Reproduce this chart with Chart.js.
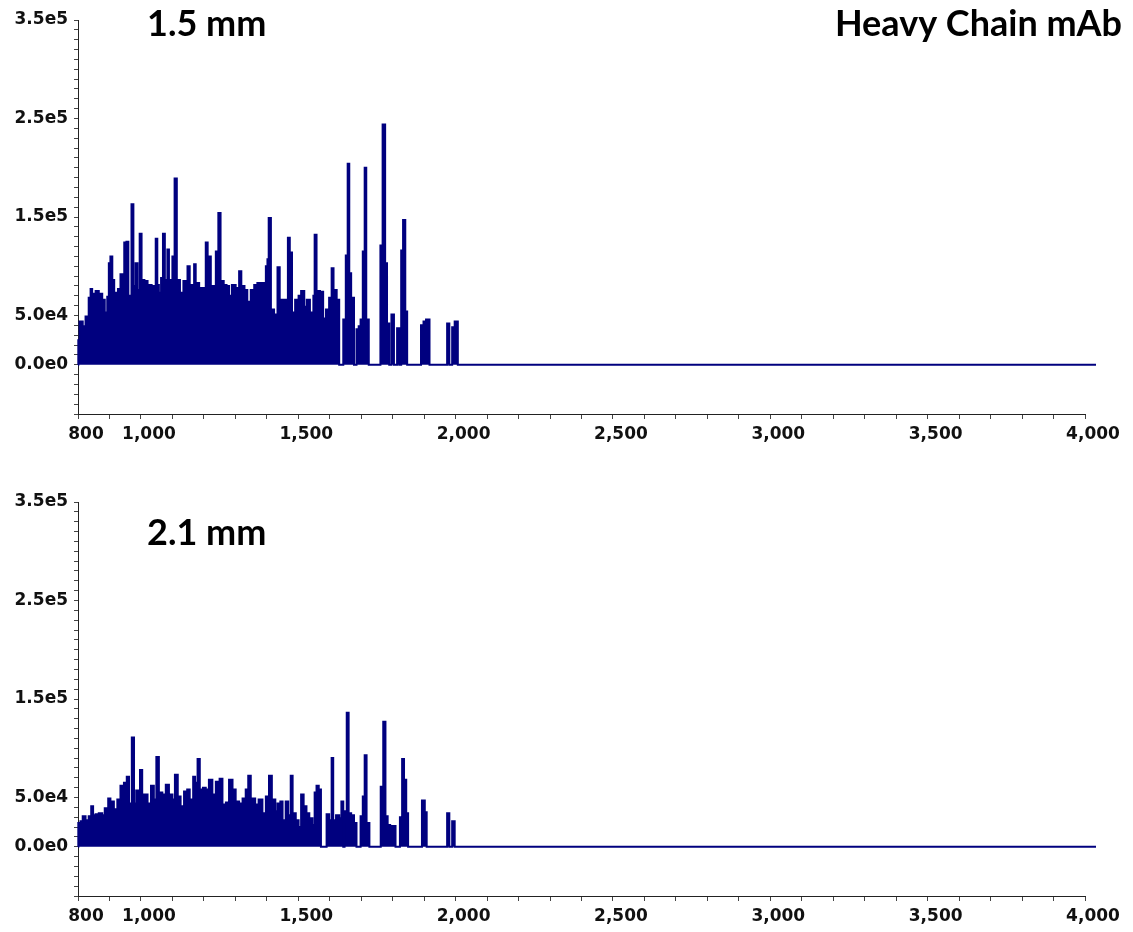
<!DOCTYPE html>
<html>
<head>
<meta charset="utf-8">
<title>Heavy Chain mAb spectra</title>
<script src="https://cdn.jsdelivr.net/npm/chart.js@4.4.0/dist/chart.umd.min.js"></script>
<style>
  html, body { margin: 0; padding: 0; background: #fff; }
  #wrap { position: relative; width: 1133px; height: 932px; overflow: hidden; }
  canvas { position: absolute; left: 0; }
  #top { top: 0; }
  #bottom { top: 482px; }
</style>
</head>
<body>
<div id="wrap">
  <canvas id="top" width="1133" height="450"></canvas>
  <canvas id="bottom" width="1133" height="450"></canvas>
</div>
<script>
// 1.5 mm column: m/z and intensity of the spectrum profile (step shape)
var mzTop = [800, 801, 805, 815, 824, 834, 840, 845, 856, 866, 877, 885, 893, 898, 903, 909, 915, 922, 927, 935,
  943, 947, 954, 960, 966, 970, 976, 983, 989, 996, 1002, 1011, 1021, 1034, 1047, 1052, 1057, 1064, 1070, 1076,
  1084, 1089, 1100, 1107, 1114, 1124, 1135, 1148, 1155, 1169, 1174, 1185, 1195, 1206, 1212, 1222, 1238, 1246, 1253, 1263,
  1272, 1280, 1289, 1301, 1312, 1319, 1329, 1338, 1349, 1360, 1370, 1386, 1397, 1402, 1406, 1413, 1423, 1434, 1441, 1455,
  1463, 1467, 1473, 1480, 1490, 1501, 1509, 1519, 1527, 1537, 1548, 1552, 1558, 1569, 1579, 1588, 1598, 1606, 1612, 1622,
  1630, 1643, 1651, 1657, 1662, 1668, 1677, 1685, 1692, 1698, 1705, 1711, 1716, 1724, 1761, 1768, 1776, 1782, 1789, 1796,
  1804, 1814, 1821, 1827, 1833, 1840, 1846, 1890, 1898, 1906, 1917, 1973, 1980, 1989, 1997, 2007, 4035];
var intensityTop = [0, 25000, 44000, 39000, 49000, 68000, 77000, 72000, 75000, 72000, 66000, 53000, 69000, 103000, 110000, 86000, 73000, 66000, 77000, 92000,
  70000, 124000, 125000, 70000, 70000, 163000, 80000, 103000, 76000, 133000, 86000, 85000, 81000, 80000, 128000, 81000, 73000, 88000, 133000, 86000,
  117000, 86000, 110000, 189000, 86000, 73000, 85000, 100000, 81000, 102000, 83000, 78000, 78000, 124000, 110000, 80000, 115000, 154000, 85000, 81000,
  80000, 70000, 81000, 78000, 95000, 80000, 76000, 64000, 76000, 81000, 83000, 83000, 100000, 107000, 149000, 56000, 51000, 99000, 66000, 66000,
  63000, 129000, 114000, 53000, 66000, 70000, 75000, 59000, 66000, 53000, 70000, 132000, 75000, 74000, 47000, 56000, 68000, 98000, 76000, 66000,
  0, 46000, 111000, 204000, 93000, 68000, 0, 36000, 39000, 46000, 115000, 200000, 46000, 0, 121000, 244000, 103000, 42000, 0, 51000,
  0, 37000, 0, 116000, 147000, 54000, 0, 40000, 44000, 46000, 0, 42000, 0, 38000, 44000, 0, 0];

// 2.1 mm column
var mzBottom = [800, 801, 808, 815, 824, 834, 842, 848, 856, 866, 877, 885, 896, 903, 914, 925, 935, 946, 955, 962,
  971, 978, 985, 997, 1004, 1013, 1021, 1032, 1041, 1049, 1057, 1068, 1079, 1089, 1100, 1108, 1117, 1126, 1137, 1147,
  1155, 1166, 1172, 1180, 1187, 1197, 1206, 1216, 1227, 1238, 1250, 1259, 1270, 1280, 1291, 1301, 1312, 1323, 1333, 1341,
  1349, 1363, 1374, 1386, 1397, 1407, 1416, 1427, 1434, 1443, 1450, 1460, 1468, 1476, 1482, 1492, 1501, 1509, 1517, 1526,
  1535, 1545, 1552, 1558, 1565, 1572, 1590, 1598, 1606, 1611, 1620, 1630, 1637, 1643, 1647, 1654, 1660, 1668, 1677, 1685,
  1698, 1705, 1711, 1717, 1726, 1762, 1770, 1777, 1784, 1792, 1800, 1809, 1823, 1830, 1836, 1843, 1849, 1893, 1902, 1908,
  1973, 1980, 1989, 1997, 4035];
var intensityBottom = [0, 24000, 26000, 31000, 27000, 31000, 41000, 32000, 33000, 34000, 32000, 39000, 49000, 46000, 38000, 48000, 62000, 65000, 71000, 44000,
  111000, 44000, 57000, 78000, 53000, 53000, 44000, 62000, 48000, 91000, 55000, 53000, 63000, 53000, 48000, 73000, 51000, 41000, 56000, 58000,
  48000, 71000, 65000, 89000, 58000, 60000, 58000, 68000, 53000, 66000, 69000, 43000, 45000, 68000, 58000, 46000, 44000, 49000, 58000, 72000,
  49000, 43000, 48000, 34000, 51000, 72000, 48000, 36000, 44000, 46000, 27000, 46000, 32000, 72000, 34000, 27000, 20000, 53000, 41000, 34000,
  29000, 22000, 55000, 62000, 58000, 0, 33000, 27000, 90000, 27000, 32000, 29000, 46000, 0, 36000, 136000, 34000, 32000, 24000, 0,
  31000, 51000, 93000, 24000, 0, 61000, 127000, 31000, 22000, 21000, 21000, 0, 30000, 89000, 68000, 34000, 0, 47000, 35000, 0,
  34000, 0, 26000, 0, 0];

// axis labels
var yLabelValues = [0, 50000, 150000, 250000, 350000];
var xLabelValues = [800, 1000, 1500, 2000, 2500, 3000, 3500, 4000];

var navy = "#00007f";
var tickFont = { family: "DejaVu Sans", size: 17, weight: "bold" };

function toPoints(mz, intensity) {
	return mz.map(function(m, i) {
		return { x: m, y: intensity[i] };
	});
}

// draws the big panel captions straight onto the canvas
var panelTitles = {
	id: "panelTitles",
	afterDraw: function(chart, args, opts) {
		var ctx = chart.ctx;
		ctx.save();
		ctx.fillStyle = "#000";
		ctx.font = "bold 36px Lato";
		ctx.textBaseline = "alphabetic";
		opts.items.forEach(function(t) {
			ctx.textAlign = t.align;
			ctx.fillText(t.text, t.x, t.y);
		});
		ctx.restore();
	}
};

function makeChart(id, mz, intensity, titles) {
	var ctx = document.getElementById(id);
	return new Chart(ctx, {
		type: "line",
		data: {
			datasets: [{
				data: toPoints(mz, intensity),
				stepped: true,
				fill: "origin",
				borderColor: navy,
				backgroundColor: navy,
				borderWidth: 2,
				pointRadius: 0,
				clip: false
			}]
		},
		options: {
			responsive: false,
			animation: false,
			events: [],
			layout: { padding: { left: 0, right: 48, top: 20, bottom: 0 } },
			plugins: {
				legend: { display: false },
				tooltip: { enabled: false },
				panelTitles: { items: titles }
			},
			scales: {
				x: {
					type: "linear",
					min: 800,
					max: 4000,
					afterFit: function(scale) { scale.height = 36; },
					border: { display: true, color: "#222", width: 1 },
					grid: { drawOnChartArea: false, drawTicks: true, tickLength: 5, tickColor: "#444" },
					ticks: {
						stepSize: 100,
						autoSkip: false,
						maxRotation: 0,
						maxTicksLimit: 100,
						padding: 5,
						labelOffset: 8,
						color: "#111",
						font: tickFont,
						callback: function(value) {
							var v = Math.round(value);
							return xLabelValues.indexOf(v) >= 0 ? v.toLocaleString("en-US") : "";
						}
					}
				},
				y: {
					min: -50000,
					max: 350000,
					afterFit: function(scale) { scale.width = 78; },
					border: { display: true, color: "#222", width: 1 },
					grid: { drawOnChartArea: false, drawTicks: true, tickLength: 4, tickColor: "#444" },
					ticks: {
						stepSize: 10000,
						autoSkip: false,
						maxTicksLimit: 100,
						padding: 6,
						color: "#111",
						font: tickFont,
						callback: function(value) {
							var v = Math.round(value);
							return yLabelValues.indexOf(v) >= 0 ? v.toExponential(1).replace("+", "") : "";
						}
					}
				}
			}
		},
		plugins: [panelTitles]
	});
}

makeChart("top", mzTop, intensityTop, [
	{ text: "1.5 mm", x: 147, y: 36, align: "left" },
	{ text: "Heavy Chain mAb", x: 1122, y: 36, align: "right" }
]);
makeChart("bottom", mzBottom, intensityBottom, [
	{ text: "2.1 mm", x: 147, y: 63, align: "left" }
]);
</script>
</body>
</html>
